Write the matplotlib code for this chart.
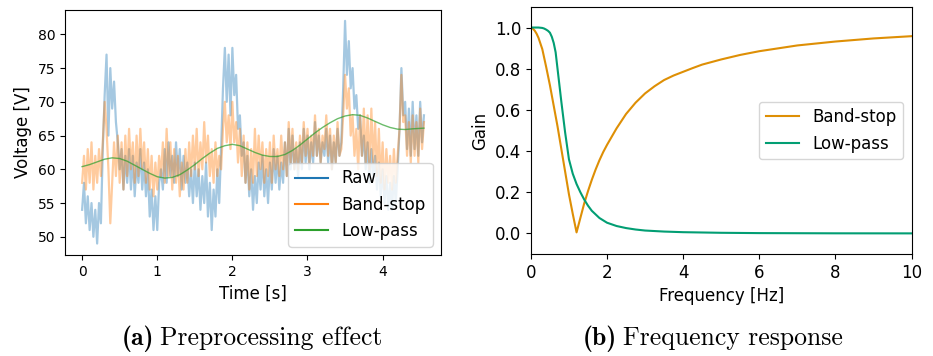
import numpy as np
import matplotlib
matplotlib.use('Agg')
import matplotlib.pyplot as plt

DT = 0.025
raw = [54, 58, 52, 56, 51, 55, 50, 54, 49, 55, 52, 63, 71, 77, 65, 75, 69, 73, 67, 64,
       60, 63, 57, 62, 58, 63, 57, 62, 56, 61, 58, 63, 57, 61, 56, 60, 53, 57, 51, 56,
       51, 58, 60, 57, 63, 58, 64, 59, 62, 58, 64, 59, 63, 57, 62, 58, 61, 56, 60, 55,
       61, 56, 60, 54, 59, 55, 61, 53, 58, 51, 57, 53, 60, 55, 63, 72, 78, 70, 77, 68,
       78, 71, 74, 66, 68, 62, 64, 58, 62, 56, 60, 54, 59, 55, 61, 57, 62, 56, 60, 55,
       61, 57, 63, 58, 62, 57, 61, 58, 64, 59, 66, 60, 65, 60, 63, 59, 64, 60, 66, 61,
       65, 60, 64, 61, 67, 62, 65, 61, 64, 62, 66, 61, 65, 60, 64, 61, 66, 62, 64, 72,
       82, 74, 79, 72, 75, 69, 71, 66, 68, 62, 65, 60, 64, 58, 63, 59, 62, 57, 61, 56,
       60, 55, 59, 54, 58, 54, 59, 55, 60, 66, 75, 68, 70, 63, 69, 62, 70, 63, 68, 62,
       70, 64, 68]
band_stop = [58, 62, 57, 63, 58, 64, 57, 62, 58, 63, 59, 64, 70, 66, 60, 52, 58, 64, 59, 65,
             58, 64, 57, 65, 59, 66, 60, 64, 58, 65, 59, 66, 60, 64, 58, 63, 57, 62, 56, 61,
             57, 62, 59, 64, 58, 66, 59, 64, 57, 63, 58, 62, 56, 61, 57, 63, 58, 64, 59, 65,
             60, 66, 59, 64, 60, 67, 61, 65, 59, 63, 58, 64, 59, 62, 60, 66, 70, 64, 68, 63,
             70, 64, 67, 61, 66, 59, 65, 58, 64, 57, 63, 58, 66, 59, 65, 60, 64, 58, 63, 59,
             64, 58, 65, 60, 63, 59, 65, 60, 64, 59, 67, 61, 66, 60, 64, 60, 65, 61, 67, 62,
             66, 61, 65, 62, 68, 62, 66, 61, 65, 63, 68, 62, 66, 60, 65, 61, 67, 62, 63, 68,
             74, 69, 72, 65, 68, 62, 66, 60, 68, 62, 69, 61, 68, 60, 69, 61, 67, 59, 66, 58,
             64, 57, 63, 58, 62, 57, 63, 58, 62, 66, 74, 67, 68, 62, 67, 61, 68, 62, 67, 61,
             69, 63, 67]

# low-pass output, every 0.1 s
t_lp = [0.0, 0.1, 0.2, 0.3, 0.4, 0.5, 0.6, 0.7, 0.8, 0.9, 1.0, 1.1, 1.2, 1.3, 1.4, 1.5,
        1.6, 1.7, 1.8, 1.9, 2.0, 2.1, 2.2, 2.3, 2.4, 2.5, 2.6, 2.7, 2.8, 2.9, 3.0, 3.1,
        3.2, 3.3, 3.4, 3.5, 3.6, 3.7, 3.8, 3.9, 4.0, 4.1, 4.2, 4.3, 4.4, 4.55]
low_pass = [60.4, 60.7, 61.1, 61.5, 61.7, 61.6, 61.2, 60.6, 60.0, 59.4, 58.9, 58.7, 58.8,
            59.2, 59.9, 60.7, 61.6, 62.4, 63.1, 63.5, 63.7, 63.5, 63.0, 62.5, 62.1, 61.9,
            61.9, 62.2, 62.8, 63.6, 64.5, 65.4, 66.2, 66.9, 67.5, 67.9, 68.1, 68.0, 67.6,
            67.1, 66.6, 66.2, 65.95, 65.9, 66.0, 66.1]

# frequency responses
f_bs = [0, 0.05, 0.1, 0.15, 0.2, 0.3, 0.4, 0.5, 0.6, 0.7, 0.8, 0.9, 1.0, 1.1, 1.2, 1.3,
        1.4, 1.5, 1.6, 1.7, 1.8, 1.9, 2.0, 2.25, 2.5, 2.75, 3.0, 3.25, 3.5, 3.75, 4.0,
        4.25, 4.5, 5.0, 5.5, 6.0, 7.0, 8.0, 9.0, 10.0]
gain_bs = [1.0, 0.995, 0.985, 0.97, 0.95, 0.895, 0.81, 0.72, 0.62, 0.52, 0.41, 0.30, 0.19,
           0.095, 0.005, 0.075, 0.145, 0.205, 0.26, 0.31, 0.355, 0.395, 0.43, 0.51, 0.58,
           0.635, 0.68, 0.715, 0.745, 0.767, 0.785, 0.803, 0.82, 0.845, 0.867, 0.885,
           0.913, 0.932, 0.947, 0.958]
f_lp = [0, 0.1, 0.2, 0.3, 0.35, 0.4, 0.45, 0.5, 0.55, 0.6, 0.65, 0.7, 0.75, 0.8, 0.85,
        0.9, 1.0, 1.1, 1.2, 1.3, 1.4, 1.5, 1.6, 1.8, 2.0, 2.25, 2.5, 2.75, 3.0, 3.5, 4.0,
        5.0, 6.0, 8.0, 10.0]
gain_lp = [1.0, 1.0, 1.0, 0.998, 0.995, 0.99, 0.984, 0.975, 0.955, 0.925, 0.88, 0.80, 0.72,
           0.64, 0.565, 0.49, 0.36, 0.29, 0.24, 0.20, 0.165, 0.135, 0.11, 0.075, 0.052,
           0.036, 0.026, 0.019, 0.014, 0.009, 0.006, 0.003, 0.0015, 0.0005, 0.0002]

t = np.arange(len(raw)) * DT

fig = plt.figure(figsize=(9.33, 3.56), dpi=100)
ax1 = fig.add_axes([0.0697, 0.2837, 0.403, 0.688])
ax2 = fig.add_axes([0.569, 0.2865, 0.408, 0.694])

ax1.plot(t, raw, color='tab:blue', alpha=0.4, lw=1.6, label='Raw')
ax1.plot(t, band_stop, color='tab:orange', alpha=0.4, lw=1.6, label='Band-stop')
ax1.plot(t_lp, low_pass, color='tab:green', alpha=0.7, lw=1, label='Low-pass')
ax1.set_ylim(47.3, 83.6)
ax1.set_yticks([50, 55, 60, 65, 70, 75, 80])
ax1.set_xlabel('Time [s]', fontsize=12)
ax1.set_ylabel('Voltage [V]', fontsize=12)
ax1.tick_params(labelsize=10)
leg = ax1.legend(loc='lower right', fontsize=12)
for h in leg.legend_handles:
    h.set_alpha(1)
    h.set_linewidth(1.5)

ax2.plot(f_bs, gain_bs, color='#de8f05', lw=1.5, label='Band-stop')
ax2.plot(f_lp, gain_lp, color='#029e73', lw=1.5, label='Low-pass')
ax2.set_xlim(0, 10)
ax2.set_ylim(-0.1, 1.1)
ax2.set_yticks([0.0, 0.2, 0.4, 0.6, 0.8, 1.0])
ax2.set_xlabel('Frequency [Hz]', fontsize=12)
ax2.set_ylabel('Gain', fontsize=12)
ax2.tick_params(labelsize=12)
ax2.legend(loc='center right', fontsize=12)


def caption(xc, y, tag, text, size=18.5):
    a = fig.text(0, y, tag, fontfamily='cmb10', fontsize=size, va='baseline')
    b = fig.text(0, y, text, fontfamily='cmr10', fontsize=size, va='baseline')
    r = fig.canvas.get_renderer()
    wa = a.get_window_extent(r).width / fig.bbox.width
    wb = b.get_window_extent(r).width / fig.bbox.width
    gap = 6 / fig.bbox.width
    x0 = xc - (wa + gap + wb) / 2
    a.set_x(x0)
    b.set_x(x0 + wa + gap)


caption(0.270, 0.031, '(a)', 'Preprocessing effect')
caption(0.764, 0.031, '(b)', 'Frequency response')

fig.savefig('out.png', dpi=100)
